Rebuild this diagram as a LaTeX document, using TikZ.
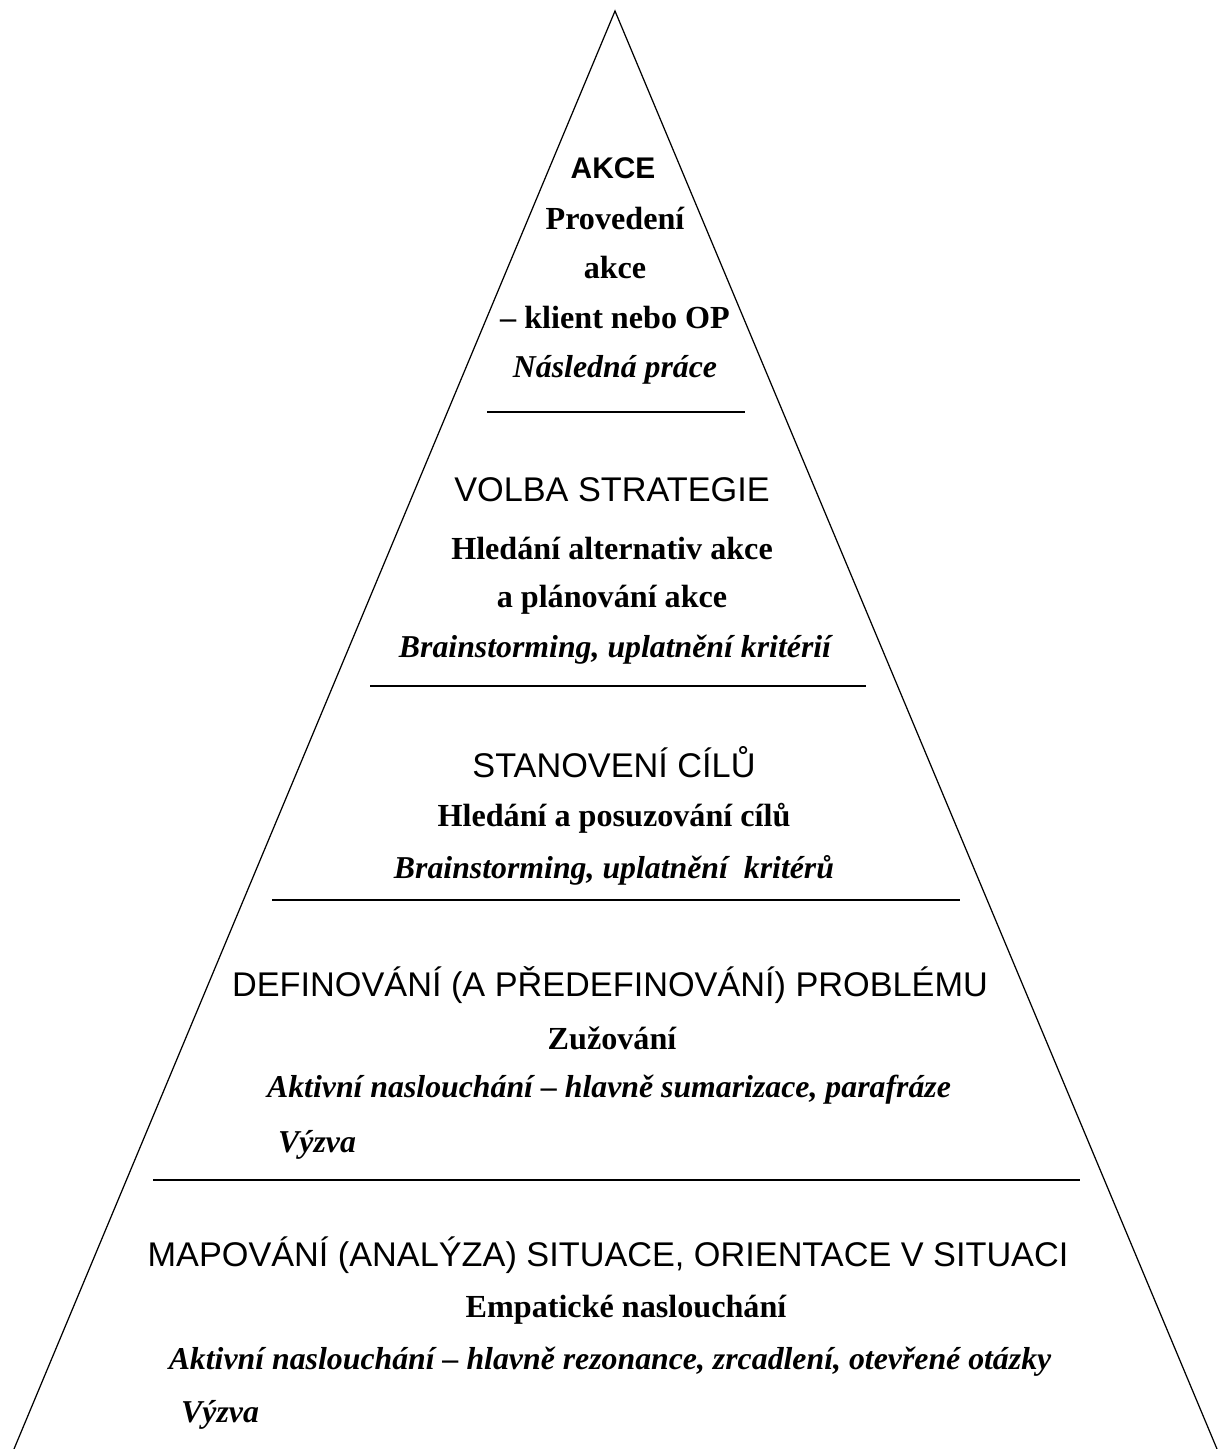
\documentclass[tikz,border=0pt]{standalone}
\usepackage{fontspec}
\setmainfont{Liberation Serif}
\setsansfont{Liberation Sans}
\usetikzlibrary{positioning}

\begin{document}
\begin{tikzpicture}[x=0.02cm, y=-0.02cm,
  head/.style={font=\sffamily\fontsize{19.5}{22}\selectfont},
  sub/.style={font=\bfseries\fontsize{18.3}{21}\selectfont},
  note/.style={font=\bfseries\itshape\fontsize{18.1}{21}\selectfont},
  sep/.style={line width=1pt}]

\useasboundingbox (0,0) rectangle (1219,1449);

% Obrys pyramidy
\coordinate (apex) at (615,11);
\coordinate (bl) at (14,1449);
\coordinate (br) at (1217,1449);
\draw[line width=0.7pt] (bl) -- (apex) -- (br);

% Oddelovace vrstev
\draw[sep] (487,412) -- (745,412);
\draw[sep] (370,686) -- (866,686);
\draw[sep] (272,900) -- (960,900);
\draw[sep] (153,1180) -- (1080,1180);

% Akce
\node[head, font=\sffamily\bfseries\fontsize{17}{20}\selectfont] (akce) at (613,168) {AKCE};
\node[sub] (akce1) at (615,218) {Provedení};
\node[sub] (akce2) at (615,268) {akce};
\node[sub] (akce3) at (615,318) {-- klient nebo OP};
\node[note] (akce4) at (615,370) {Následná práce};

% Volba strategie
\node[head] (volba) at (612,490) {VOLBA STRATEGIE};
\node[sub] (volba1) at (612,548) {Hledání alternativ akce};
\node[sub] (volba2) at (612,600) {a plánování akce};
\node[note] (volba3) at (615,650) {Brainstorming, uplatnění kritérií};

% Stanoveni cilu
\node[head] (cile) at (614,762) {STANOVENÍ CÍLŮ};
\node[sub] (cile1) at (614,818) {Hledání a posuzování cílů};
\node[note] (cile2) at (614,870) {Brainstorming, uplatnění\ \ kritérů};

% Definovani problemu
\node[head] (defin) at (610,985) {DEFINOVÁNÍ (A PŘEDEFINOVÁNÍ) PROBLÉMU};
\node[sub] (defin1) at (612,1038) {Zužování};
\node[note] (defin2) at (609,1090) {Aktivní naslouchání -- hlavně sumarizace, parafráze};
\node[note, anchor=west] (defin3) at (272,1145) {Výzva};

% Mapovani situace
\node[head] (mapa) at (608,1255) {MAPOVÁNÍ (ANALÝZA) SITUACE, ORIENTACE V SITUACI};
\node[sub] (mapa1) at (626,1310) {Empatické naslouchání};
\node[note] (mapa2) at (610,1362) {Aktivní naslouchání -- hlavně rezonance, zrcadlení, otevřené otázky};
\node[note, anchor=west] (mapa3) at (175,1415) {Výzva};

\end{tikzpicture}
\end{document}
